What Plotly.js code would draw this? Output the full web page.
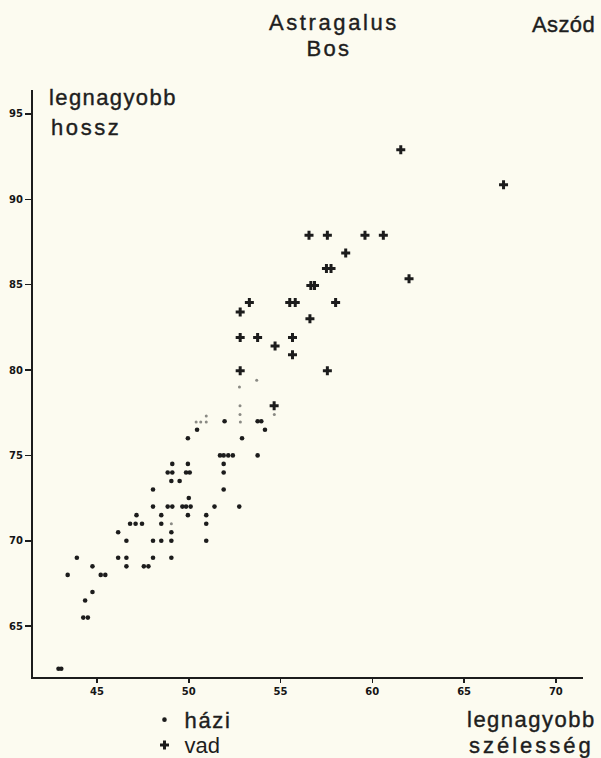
<!DOCTYPE html>
<html>
<head>
<meta charset="utf-8">
<script src="https://cdn.plot.ly/plotly-3.0.1.min.js"></script>
<style>
  html, body { margin: 0; padding: 0; background: #fcfbf0; }
  #chart { width: 601px; height: 758px; }
</style>
</head>
<body>
<div id="chart"></div>
<script>
// Astragalus (Bos), Aszód: greatest breadth (x) vs greatest length (y), mm

// domestic (házi) specimens
const haziX = [42.9, 43.05, 43.4, 43.9, 44.35, 44.25, 44.5, 44.75, 44.75, 45.2,
  45.45, 46.15, 46.15, 46.6, 46.6, 46.6, 47.15, 46.8, 47.1, 47.45,
  47.55, 47.8, 48.05, 48.05, 48.05, 48.05, 48.5, 48.5, 48.5, 48.85,
  49.1, 49.05, 49.05, 49.05, 49.05, 49.5, 48.85, 49.1, 49.1, 49.65,
  49.85, 50.1, 49.95, 50.0, 49.85, 50.05, 49.95, 49.95, 50.45, 50.95,
  50.95, 50.95, 51.4, 51.7, 51.9, 52.15, 52.4, 51.9, 51.9, 51.9,
  51.95, 52.75, 52.9, 53.75, 53.95, 54.15, 53.75];
const haziY = [62.5, 62.5, 68.0, 69.0, 66.5, 65.5, 65.5, 67.0, 68.5, 68.0,
  68.0, 70.5, 69.0, 70.0, 69.0, 68.5, 71.5, 71.0, 71.0, 71.0,
  68.5, 68.5, 73.0, 72.0, 70.0, 69.0, 71.5, 71.0, 70.0, 72.0,
  72.0, 70.5, 70.0, 69.0, 73.5, 73.5, 74.0, 74.0, 74.5, 72.0,
  72.0, 72.0, 71.5, 72.5, 74.0, 74.0, 74.5, 76.0, 76.5, 71.5,
  71.0, 70.0, 72.0, 75.0, 75.0, 75.0, 75.0, 74.5, 74.0, 73.0,
  77.0, 72.0, 76.0, 77.0, 77.0, 76.5, 75.0];

// domestic specimens printed faintly
const haziFaintX = [49.05, 50.4, 50.65, 50.95, 50.95, 52.79, 52.79, 52.81, 52.76, 53.7, 54.66];
const haziFaintY = [71.0, 76.95, 76.95, 76.95, 77.3, 77.9, 77.4, 76.95, 79.0, 79.4, 77.4];

// wild (vad) specimens
const vadX = [61.55, 67.15, 56.55, 57.55, 59.6, 60.6, 58.55, 57.5, 57.75, 62.0,
  56.65, 56.85, 53.3, 55.5, 55.8, 58.0, 52.8, 56.6, 52.8, 53.75,
  55.65, 54.7, 55.65, 52.8, 57.55, 54.65];
const vadY = [92.9, 90.85, 87.9, 87.9, 87.9, 87.9, 86.85, 85.95, 85.95, 85.35,
  84.95, 84.95, 83.95, 83.95, 83.95, 83.95, 83.4, 83.0, 81.9, 81.9,
  81.9, 81.4, 80.9, 79.95, 79.95, 77.9];

const xTicks = [45, 50, 55, 60, 65, 70];
const yTicks = [65, 70, 75, 80, 85, 90, 95];

const seriesNames = ['házi', 'vad'];

const ink = '#1c1c1c';
const paper = '#fcfbf0';
const textFont = { family: 'Liberation Sans, Arial, sans-serif', size: 22, color: '#1e1e1e' };
const tickFont = { family: 'DejaVu Sans, sans-serif', size: 10, weight: 'bold', color: '#151515' };

const traces = [
  {
    type: 'scatter', mode: 'markers', name: seriesNames[0],
    x: haziX, y: haziY, legend: 'legend',
    marker: { symbol: 'circle', size: 4.6, color: ink }
  },
  {
    type: 'scatter', mode: 'markers', name: seriesNames[0],
    x: haziFaintX, y: haziFaintY, showlegend: false,
    marker: { symbol: 'circle', size: 3, color: '#8a8a84' }
  },
  {
    type: 'scatter', mode: 'markers', name: seriesNames[1],
    x: vadX, y: vadY, legend: 'legend2',
    marker: { symbol: 'cross', size: 7.5, color: ink }
  }
];

const axisCommon = {
  showgrid: false, zeroline: false, showline: true,
  linecolor: ink, linewidth: 2,
  ticks: 'outside', tickcolor: ink, tickwidth: 1.5,
  tickfont: tickFont, fixedrange: true
};

// annotation texts, with the letter spacing of each
const labels = [
  { text: 'Astragalus', x: 0.547, y: 1.115, xanchor: 'center', align: 'center', ls: 2.6 },
  { text: 'Bos', x: 0.539, y: 1.071, xanchor: 'center', align: 'center', ls: 2.4 },
  { text: 'Aszód', x: 1.026, y: 1.111, xanchor: 'right', align: 'right', ls: 0.4 },
  { text: 'legnagyobb', x: 0.026, y: 0.988, xanchor: 'left', align: 'left', ls: 1.4 },
  { text: 'hossz', x: 0.029, y: 0.9366, xanchor: 'left', align: 'left', ls: 2.6 },
  { text: 'legnagyobb', x: 1.027, y: -0.073, xanchor: 'right', align: 'right', ls: 1.5 },
  { text: 'szélesség', x: 1.024, y: -0.116, xanchor: 'right', align: 'right', ls: 3.0 }
];

const layout = {
  width: 601, height: 758,
  margin: { l: 33, r: 18, t: 90, b: 81, autoexpand: false },
  paper_bgcolor: paper, plot_bgcolor: paper,
  xaxis: Object.assign({}, axisCommon, {
    range: [41.51, 71.48], tickvals: xTicks, ticklen: 4
  }),
  yaxis: Object.assign({}, axisCommon, {
    range: [62.02, 96.40], tickvals: yTicks, ticklen: 6
  }),
  legend: {
    x: 0.2027, y: -0.073, xanchor: 'left', yanchor: 'middle',
    bgcolor: 'rgba(0,0,0,0)', font: textFont, itemsizing: 'trace'
  },
  legend2: {
    x: 0.2027, y: -0.116, xanchor: 'left', yanchor: 'middle',
    bgcolor: 'rgba(0,0,0,0)', font: textFont, itemsizing: 'trace'
  },
  annotations: labels.map(l => ({
    text: l.text, x: l.x, y: l.y, xref: 'paper', yref: 'paper',
    xanchor: l.xanchor, yanchor: 'middle', align: l.align,
    showarrow: false, font: textFont
  }))
};

// transfer lettering: spaced-out, slightly heavy strokes
function letterStyle(el, spacing) {
  el.style.letterSpacing = spacing + 'px';
  el.style.stroke = '#1e1e1e';
  el.style.strokeWidth = '0.4px';
}

function styleTexts() {
  document.querySelectorAll('.annotation-text').forEach((el, i) => {
    if (labels[i]) letterStyle(el, labels[i].ls);
  });
  document.querySelectorAll('.legendtext').forEach(el => {
    const spacing = el.textContent.trim() === seriesNames[1] ? 2.2 : 1.7;
    letterStyle(el, spacing);
  });
}

Plotly.newPlot('chart', traces, layout, { displayModeBar: false, staticPlot: true }).then(() => {
  styleTexts();
  setTimeout(styleTexts, 50);
});
</script>
</body>
</html>
